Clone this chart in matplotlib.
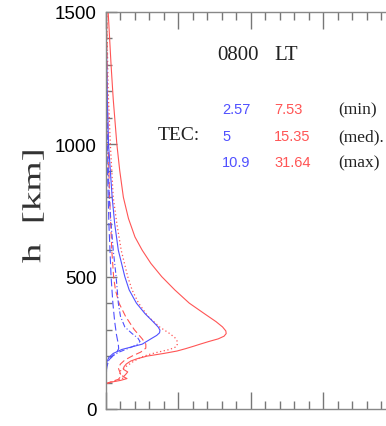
import matplotlib
matplotlib.use("Agg")
import matplotlib.pyplot as plt
from matplotlib.ticker import MultipleLocator
from matplotlib.textpath import TextPath
from matplotlib.patches import PathPatch
from matplotlib.font_manager import FontProperties
from matplotlib.transforms import Affine2D, IdentityTransform

# electron density profiles (x in axis units, h in km)
h_red_max = [1500, 1300, 1170, 1000, 900, 800, 720, 650, 600, 550, 500, 450, 400, 360, 330, 310, 295, 285,
             275, 265, 255, 245, 238, 228, 219, 210, 200, 190, 181, 170, 160, 150, 140, 130, 122, 115, 108, 102, 96]
ne_red_max = [0.03, 0.07, 0.10, 0.15, 0.19, 0.24, 0.31, 0.40, 0.50, 0.62, 0.77, 0.95, 1.15, 1.36, 1.52, 1.61, 1.655, 1.66,
              1.63, 1.55, 1.42, 1.30, 1.22, 1.10, 0.98, 0.80, 0.57, 0.43, 0.34, 0.28, 0.25, 0.24, 0.30, 0.27, 0.24, 0.29, 0.20, 0.08, 0.0]

h_red_med = [1500, 1200, 1000, 800, 700, 600, 500, 450, 400, 350, 310, 285, 270, 258, 245, 235, 225, 215,
             205, 195, 180, 165, 150, 138, 128, 118, 108, 100, 94]
ne_red_med = [0.01, 0.03, 0.06, 0.10, 0.15, 0.21, 0.30, 0.36, 0.45, 0.58, 0.74, 0.88, 0.95, 0.98, 0.985, 0.97, 0.88, 0.72,
              0.58, 0.48, 0.38, 0.30, 0.22, 0.18, 0.22, 0.25, 0.15, 0.05, 0.0]

h_red_min = [1500, 1200, 1000, 800, 700, 600, 500, 450, 400, 350, 300, 265, 245, 230, 215, 200, 185, 170,
             155, 140, 125, 112, 102, 95]
ne_red_min = [0.01, 0.02, 0.03, 0.05, 0.065, 0.08, 0.105, 0.13, 0.18, 0.27, 0.39, 0.50, 0.55, 0.55, 0.48, 0.36, 0.26, 0.20,
              0.17, 0.19, 0.21, 0.17, 0.06, 0.0]

h_blue_max = [1500, 1200, 1000, 800, 700, 600, 500, 450, 400, 360, 330, 310, 298, 288, 278, 265, 255, 245,
              235, 225, 210, 195, 180, 160, 140, 120, 100]
ne_blue_max = [0.0, 0.015, 0.035, 0.085, 0.12, 0.17, 0.26, 0.32, 0.42, 0.54, 0.65, 0.72, 0.745, 0.74, 0.70, 0.62, 0.56, 0.50,
               0.36, 0.22, 0.10, 0.04, 0.015, 0.008, 0.004, 0.002, 0.0]

h_blue_med = [1500, 1000, 800, 700, 600, 500, 400, 350, 310, 285, 268, 255, 242, 228, 215, 200, 185, 160, 120, 100]
ne_blue_med = [0.0, 0.02, 0.045, 0.07, 0.10, 0.14, 0.17, 0.20, 0.26, 0.36, 0.44, 0.47, 0.42, 0.30, 0.18, 0.09, 0.04, 0.01, 0.003, 0.0]

h_blue_min = [1500, 1000, 800, 700, 600, 500, 400, 330, 280, 245, 228, 215, 200, 185, 160, 120, 100]
ne_blue_min = [0.0, 0.01, 0.03, 0.04, 0.055, 0.07, 0.095, 0.12, 0.145, 0.17, 0.175, 0.15, 0.09, 0.04, 0.01, 0.002, 0.0]

tec_blue = ["2.57", "5", "10.9"]
tec_red = ["7.53", "15.35", "31.64"]
tec_kind = ["(min)", "(med).", "(max)"]

RED = "#ff5555"
BLUE = "#5050ff"
W, H = 386, 427

fig = plt.figure(figsize=(W / 100, H / 100), dpi=100)
ax = fig.add_axes([106 / W, 17 / H, 362 / W, 397 / H])

ax.plot(ne_red_max, h_red_max, color=RED, lw=0.8, ls="-")
ax.plot(ne_red_med, h_red_med, color=RED, lw=0.9, ls=(0, (1, 2)))
ax.plot(ne_red_min, h_red_min, color=RED, lw=0.8, ls=(0, (6, 3)))
ax.plot(ne_blue_max, h_blue_max, color=BLUE, lw=0.8, ls="-")
ax.plot(ne_blue_med, h_blue_med, color=BLUE, lw=0.8, ls=(0, (5, 2, 1, 2)))
ax.plot(ne_blue_min, h_blue_min, color=BLUE, lw=0.8, ls=(0, (7, 3)))

ax.set_xlim(0, 5)
ax.set_ylim(0, 1500)
ax.xaxis.set_major_locator(MultipleLocator(1))
ax.xaxis.set_minor_locator(MultipleLocator(0.2))
ax.yaxis.set_major_locator(MultipleLocator(500))
ax.yaxis.set_minor_locator(MultipleLocator(100))

ax.spines["right"].set_visible(False)
for side in ["left", "top", "bottom"]:
    ax.spines[side].set_color("#888888")
    ax.spines[side].set_linewidth(1.0)

ax.tick_params(axis="x", which="major", direction="in", length=12, width=1, color="#777777",
               top=True, bottom=True, labelbottom=False)
ax.tick_params(axis="x", which="minor", direction="in", length=6, width=1, color="#777777",
               top=True, bottom=True)
ax.tick_params(axis="y", which="major", direction="in", length=8, width=1, color="#777777",
               left=True, right=False, pad=7)
ax.tick_params(axis="y", which="minor", direction="in", length=4, width=1, color="#777777",
               left=True, right=False)
for lab in ax.get_yticklabels():
    lab.set_fontfamily("Liberation Sans")
    lab.set_fontsize(13.5)

serif = "Liberation Serif"
sans = "Liberation Sans"
dark = "#222222"

# y label: wide vector-style font, so stretch the text path along its length
tp = TextPath((0, 0), "h  [km]", size=26, prop=FontProperties(family=serif))
bb = tp.get_extents()
tr = (Affine2D().translate(-(bb.x0 + bb.x1) / 2, -(bb.y0 + bb.y1) / 2)
      .scale(1.5, 1.0).rotate_deg(90).translate(33, H - 208))
fig.add_artist(PathPatch(tr.transform_path(tp), facecolor="#333333", edgecolor="none", lw=0,
                         transform=IdentityTransform()))

fig.text(217 / W, 1 - 55 / H, "0800", ha="left", va="center", fontfamily=serif, fontsize=15, color=dark)
fig.text(274 / W, 1 - 55 / H, "LT", ha="left", va="center", fontfamily=serif, fontsize=15, color=dark)
fig.text(158 / W, 1 - 136 / H, "TEC:", ha="left", va="center", fontfamily=serif, fontsize=14, color=dark)

rows_y = [110, 137, 163]
for yy, b, r, k in zip(rows_y, tec_blue, tec_red, tec_kind):
    fig.text(222 / W, 1 - yy / H, b, ha="left", va="center", fontfamily=sans, fontsize=10.5, color=BLUE)
    fig.text(274 / W, 1 - yy / H, r, ha="left", va="center", fontfamily=sans, fontsize=10.5, color=RED)
    fig.text(338 / W, 1 - yy / H, k, ha="left", va="center", fontfamily=serif, fontsize=12.5, color=dark)

fig.savefig("out.png", dpi=100)
